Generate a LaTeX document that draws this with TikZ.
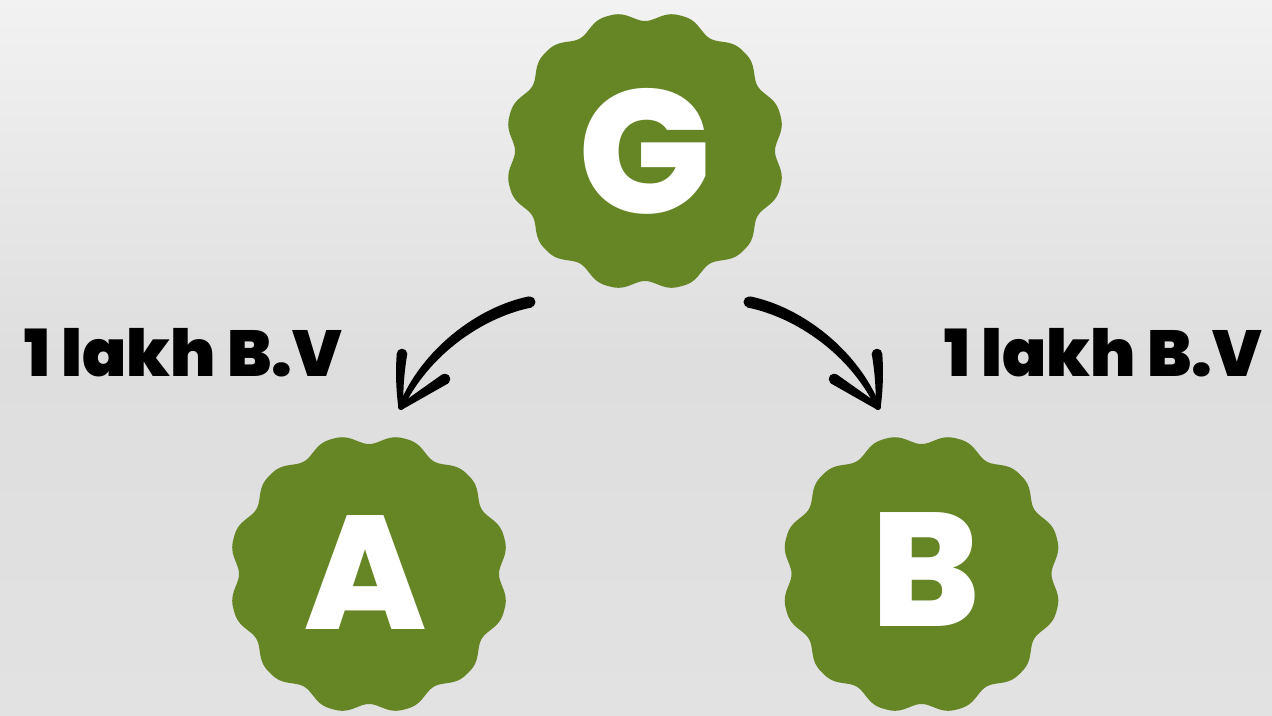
\documentclass[tikz,border=0pt]{standalone}
\usepackage{fontspec}
\setmainfont{Poppins}
\newfontfamily\heavyfont{Poppins Black}
\newfontfamily\xboldfont{Poppins ExtraBold}
\definecolor{badgegreen}{RGB}{102,134,38}
\definecolor{bgtop}{RGB}{242,242,242}
\definecolor{bgmid}{RGB}{222,222,222}
\definecolor{bgbot}{RGB}{226,226,226}
\tikzset{
  badge/.style={fill=badgegreen},
  letter/.style={text=white, font=\xboldfont\fontsize{46}{46}\selectfont, inner sep=0pt},
  lab/.style={text=black, font=\heavyfont\fontsize{18.5}{18.5}\selectfont, inner sep=0pt, anchor=base west},
  ink/.style={fill=black, draw=black, line width=0.6pt, line join=round},
}
% scalloped badge: 12 round lobes, valleys at 0, 90, 180, 270 degrees
\newcommand\badgeshape[2]{%
  \fill[badge, shift={(#1,#2)}] plot[domain=0:360, samples=721, smooth]
    ({(130+10*(1-(0.5+0.5*cos(12*\x))*sqrt(0.5+0.5*cos(12*\x))))*cos(\x)},
     {(130+10*(1-(0.5+0.5*cos(12*\x))*sqrt(0.5+0.5*cos(12*\x))))*sin(\x)}) -- cycle;}
\tikzset{
  handarrow/.pic={
    % shaft
    \fill[ink] (528.8,297.5) .. controls (479,307.5) and (422,350) .. (399.7,406.4)
      -- (402.3,407.6) .. controls (428,354) and (482,316.5) .. (531.2,306.5) -- cycle;
    \fill[ink] (530,302) circle (4.4);
    % head, upper stroke
    \fill[ink] (399.4,407) .. controls (397,390) and (396.5,370) .. (397.8,354)
      -- (406.2,354) .. controls (403.5,370) and (401.5,390) .. (402.6,407) -- cycle;
    \fill[ink] (402,354) circle (4.2);
    % head, side stroke
    \fill[ink] (400,405.6) -- (442.7,375.3) -- (447.3,382.7) -- (402,408.4) -- cycle;
    \fill[ink] (445,379) circle (4.2);
    \fill[ink] (401,407) circle (2);
  }
}
\begin{document}
\begin{tikzpicture}[x=0.1mm,y=-0.1mm]
  \useasboundingbox (0,0) rectangle (1272,715);
  % background
  \shade[top color=bgtop, bottom color=bgbot, middle color=bgmid] (0,0) rectangle (1272,715);
  % badges
  \badgeshape{645}{151}
  \badgeshape{369}{574}
  \badgeshape{921.5}{574}
  \node[letter, font=\xboldfont\fontsize{50}{50}\selectfont] (G) at (645,151) {G};
  \node[letter] (A) at (366,572) {A};
  \node[letter] (B) at (926,569) {B};
  % labels
  \node[lab] (labL) at (24,376) {1 lakh B.V};
  \node[lab] (labR) at (944,376) {1 lakh B.V};
  % arrows from G to A and B
  \pic at (0,0) {handarrow};
  \pic[xscale=-1] at (1279,0) {handarrow};
\end{tikzpicture}
\end{document}
